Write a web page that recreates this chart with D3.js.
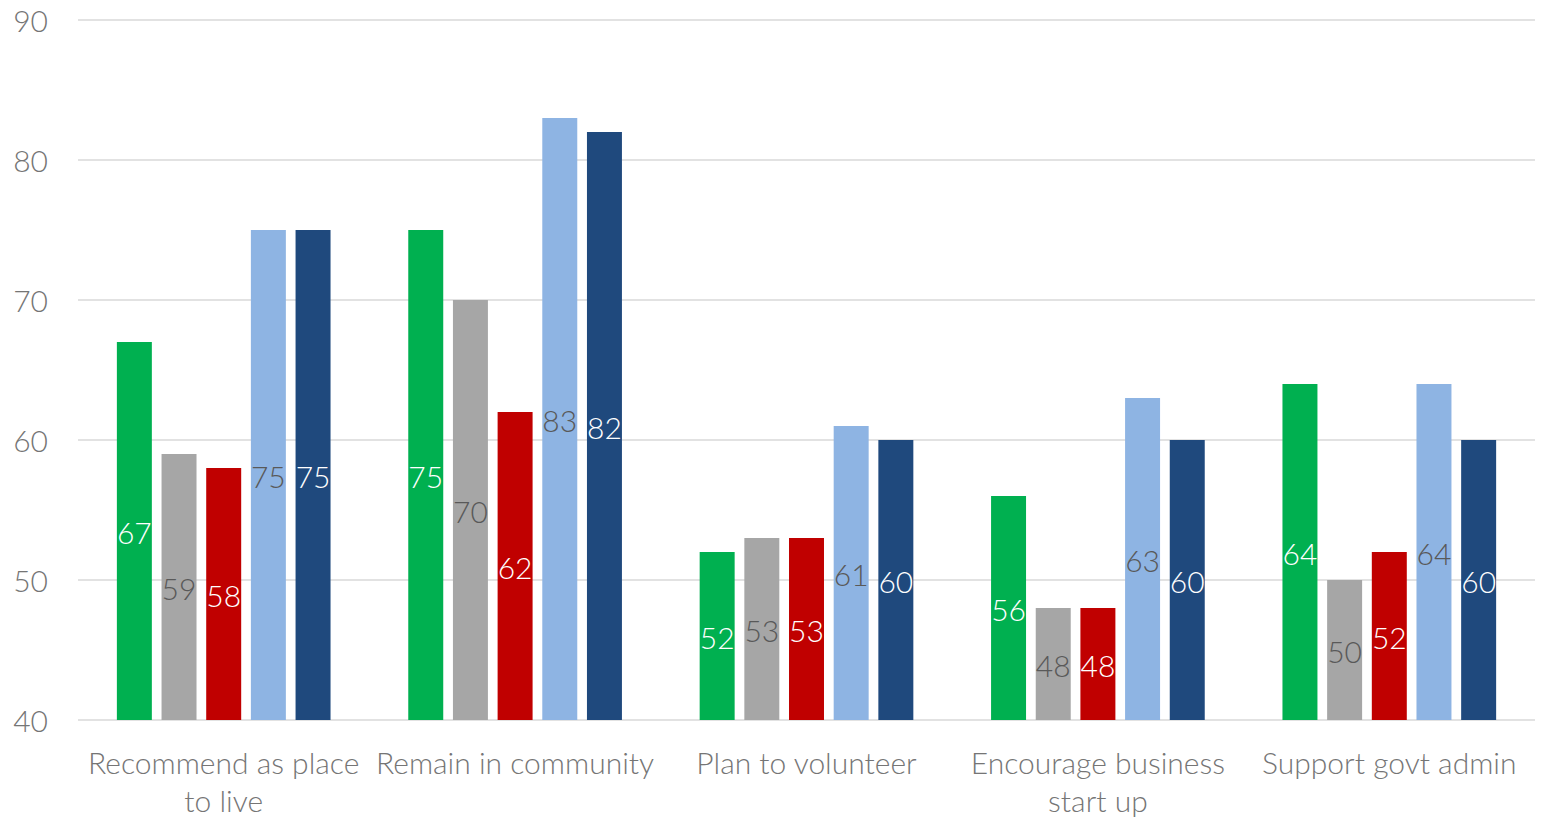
<!DOCTYPE html>
<html>
<head>
<meta charset="utf-8">
<script src="https://cdn.jsdelivr.net/npm/d3@7"></script>
<style>
  html, body { margin: 0; padding: 0; background: #fff; }
  svg { display: block; }
  text { font-family: Lato, "Open Sans", sans-serif; font-weight: 300; }
</style>
</head>
<body>
<svg id="chart" width="1541" height="818"></svg>
<script>
// Survey scores per question, one series per group
const categories = [
  ["Recommend as place", "to live"],
  ["Remain in community"],
  ["Plan to volunteer"],
  ["Encourage business", "start up"],
  ["Support govt admin"]
];
const seriesNames = ["S1", "S2", "S3", "S4", "S5"];
const series1 = [67, 75, 52, 56, 64];
const series2 = [59, 70, 53, 48, 50];
const series3 = [58, 62, 53, 48, 52];
const series4 = [75, 83, 61, 63, 64];
const series5 = [75, 82, 60, 60, 60];
const yTicks = [40, 50, 60, 70, 80, 90];

const barColors = ["#00B050", "#A6A6A6", "#C00000", "#8EB4E3", "#1F497D"];
const labelColors = ["#ffffff", "#595959", "#ffffff", "#595959", "#ffffff"];
const allSeries = [series1, series2, series3, series4, series5];

const svg = d3.select("#chart");
const margin = { left: 78, right: 6, top: 20, bottom: 98 };
const W = 1541, H = 818;
const fontSize = 30;

const x0 = d3.scaleBand()
  .domain(d3.range(categories.length))
  .range([margin.left, W - margin.right])
  .paddingInner(0)
  .paddingOuter(0);

const x1 = d3.scaleBand()
  .domain(d3.range(seriesNames.length))
  .range([0, x0.bandwidth()])
  .paddingInner(0.217)
  .paddingOuter(0.87);

const y = d3.scaleLinear().domain([40, 90]).range([H - margin.bottom, margin.top]);

// Gridlines
svg.append("g")
  .selectAll("line")
  .data(yTicks)
  .join("line")
  .attr("x1", margin.left)
  .attr("x2", W - margin.right)
  .attr("y1", d => y(d))
  .attr("y2", d => y(d))
  .attr("stroke", "#D9D9D9")
  .attr("stroke-width", 1.5);

// Y axis labels
svg.append("g")
  .selectAll("text")
  .data(yTicks)
  .join("text")
  .attr("x", 48)
  .attr("y", d => y(d))
  .attr("text-anchor", "end")
  .attr("dominant-baseline", "central")
  .attr("font-size", fontSize)
  .attr("fill", "#757575")
  .text(d => d);

// Bars
const rows = [];
categories.forEach((c, ci) => {
  allSeries.forEach((s, si) => rows.push({ ci, si, v: s[ci] }));
});

const groups = svg.append("g");
groups.selectAll("rect")
  .data(rows)
  .join("rect")
  .attr("x", d => x0(d.ci) + x1(d.si))
  .attr("width", x1.bandwidth())
  .attr("y", d => y(d.v))
  .attr("height", d => y(40) - y(d.v))
  .attr("fill", d => barColors[d.si]);

// Value labels centred in each bar
groups.selectAll("text")
  .data(rows)
  .join("text")
  .attr("x", d => x0(d.ci) + x1(d.si) + x1.bandwidth() / 2)
  .attr("y", d => (y(d.v) + y(40)) / 2 + 1)
  .attr("text-anchor", "middle")
  .attr("dominant-baseline", "central")
  .attr("font-size", fontSize)
  .attr("fill", d => labelColors[d.si])
  .text(d => d.v);

// Category labels
const cat = svg.append("g")
  .selectAll("text")
  .data(categories)
  .join("text")
  .attr("x", (d, i) => x0(i) + x0.bandwidth() / 2)
  .attr("y", 763)
  .attr("text-anchor", "middle")
  .attr("font-size", fontSize)
  .attr("fill", "#757575");
cat.selectAll("tspan")
  .data(d => d)
  .join("tspan")
  .attr("x", function () { return d3.select(this.parentNode).attr("x"); })
  .attr("dy", (d, i) => i === 0 ? "0.35em" : "38px")
  .text(d => d);
</script>
</body>
</html>
